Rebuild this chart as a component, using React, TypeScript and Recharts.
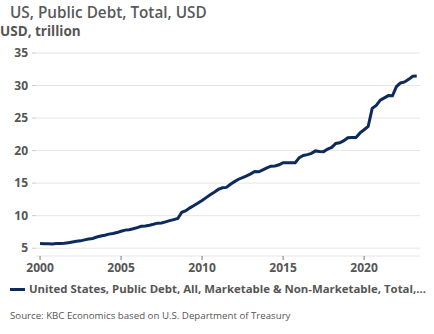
import { LineChart, Line, XAxis, YAxis, CartesianGrid } from 'recharts'

const years = [
  2000, 2001, 2002, 2003, 2004, 2005, 2006, 2007, 2008, 2009, 2010, 2011,
  2012, 2013, 2014, 2015, 2016, 2017, 2018, 2019, 2020, 2021, 2022, 2023,
]

// quarterly readings (Jan, Apr, Jul, Oct), USD trillion
const debtByQuarter = [
  [5.72, 5.69, 5.67, 5.66],
  [5.73, 5.73, 5.76, 5.85],
  [5.95, 6.06, 6.13, 6.28],
  [6.40, 6.50, 6.72, 6.87],
  [7.00, 7.16, 7.27, 7.40],
  [7.60, 7.78, 7.85, 7.98],
  [8.17, 8.37, 8.42, 8.54],
  [8.68, 8.85, 8.87, 9.05],
  [9.23, 9.39, 9.56, 10.52],
  [10.75, 11.20, 11.55, 11.93],
  [12.33, 12.77, 13.20, 13.60],
  [14.03, 14.28, 14.34, 14.83],
  [15.23, 15.60, 15.86, 16.12],
  [16.43, 16.80, 16.74, 17.05],
  [17.35, 17.60, 17.63, 17.82],
  [18.14, 18.15, 18.15, 18.15],
  [18.92, 19.26, 19.38, 19.57],
  [19.95, 19.85, 19.84, 20.24],
  [20.49, 21.09, 21.20, 21.52],
  [21.97, 22.03, 22.02, 22.72],
  [23.20, 23.70, 26.50, 26.95],
  [27.75, 28.10, 28.45, 28.43],
  [29.85, 30.40, 30.55, 30.95],
  [31.42, 31.46],
]

const yTicks = [5, 10, 15, 20, 25, 30, 35]
const xTicks = [2000, 2005, 2010, 2015, 2020]

const seriesName = 'United States, Public Debt, All, Marketable & Non-Marketable, Total,…'
const navy = '#0c2b5c'
const grey = '#555'

const data = years.flatMap((y, i) =>
  debtByQuarter[i].map((v, q) => ({ t: y + q * 0.25, debt: v }))
)

export default function App() {
  return (
    <div
      style={{
        position: 'fixed',
        top: 0,
        left: 0,
        width: 434,
        height: 334,
        background: '#fff',
        fontFamily: '"Open Sans", sans-serif',
      }}
    >
      <div style={{ position: 'absolute', left: 10, top: 3, fontSize: 15.3, lineHeight: '18px', fontWeight: 600, color: '#595959', whiteSpace: 'nowrap' }}>
        US, Public Debt, Total, USD
      </div>
      <div style={{ position: 'absolute', left: 0, top: 23, fontSize: 13.5, lineHeight: '16px', fontWeight: 700, color: grey, whiteSpace: 'nowrap' }}>
        USD, trillion
      </div>
      <LineChart width={434} height={285} data={data} margin={{ top: 53, right: 14, left: 0, bottom: 0 }}>
        <CartesianGrid vertical={false} stroke="#e6e6e6" />
        <XAxis
          dataKey="t"
          type="number"
          domain={[1999.75, 2023.45]}
          ticks={xTicks}
          axisLine={false}
          tickSize={4}
          tickLine={{ stroke: '#777' }}
          tickMargin={3}
          height={29}
          tick={{ fontSize: 12, fontWeight: 700, fill: grey }}
        />
        <YAxis
          type="number"
          domain={[3.8, 35]}
          ticks={yTicks}
          axisLine={false}
          tickSize={4}
          tickLine={{ stroke: '#ccc' }}
          tickMargin={4}
          width={36}
          tick={{ fontSize: 12, fontWeight: 700, fill: grey }}
        />
        <Line
          dataKey="debt"
          name={seriesName}
          stroke={navy}
          strokeWidth={3}
          dot={false}
          isAnimationActive={false}
        />
      </LineChart>
      <div style={{ position: 'absolute', left: 10, top: 281, display: 'flex', alignItems: 'center', whiteSpace: 'nowrap' }}>
        <span style={{ display: 'inline-block', width: 15, height: 3, background: navy, marginRight: 4 }} />
        <span style={{ fontSize: 11.4, lineHeight: '16px', fontWeight: 700, color: grey }}>{seriesName}</span>
      </div>
      <div style={{ position: 'absolute', left: 10, top: 309, fontSize: 9.7, lineHeight: '13px', color: '#555', whiteSpace: 'nowrap' }}>
        Source: KBC Economics based on U.S. Department of Treasury
      </div>
    </div>
  )
}
